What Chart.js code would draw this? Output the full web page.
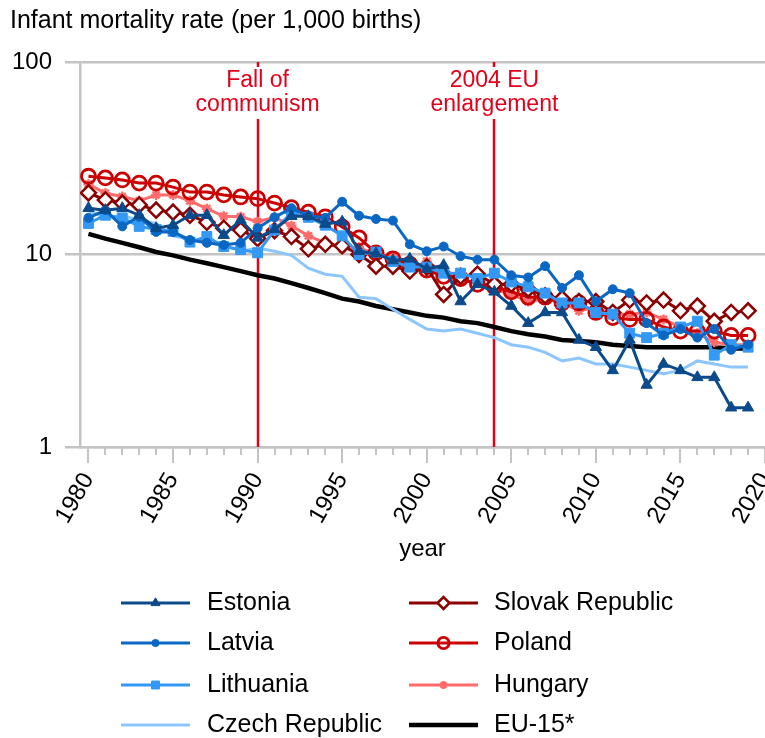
<!DOCTYPE html>
<html>
<head>
<meta charset="utf-8">
<script src="https://cdn.jsdelivr.net/npm/chart.js@4/dist/chart.umd.min.js"></script>
<style>
  html, body { margin: 0; padding: 0; background: #fff; }
</style>
</head>
<body>
<canvas id="myChart" width="765" height="738"></canvas>
<script>
const years = [1980, 1981, 1982, 1983, 1984, 1985, 1986, 1987, 1988, 1989,
  1990, 1991, 1992, 1993, 1994, 1995, 1996, 1997, 1998, 1999,
  2000, 2001, 2002, 2003, 2004, 2005, 2006, 2007, 2008, 2009,
  2010, 2011, 2012, 2013, 2014, 2015, 2016, 2017, 2018, 2019];

const estonia = [17.4, 17.0, 17.4, 16.0, 13.7, 14.2, 16.0, 16.0, 12.6, 15.1,
  12.2, 13.5, 15.8, 15.8, 14.4, 14.8, 10.4, 10.1, 9.3, 9.5,
  8.4, 8.8, 5.7, 7.0, 6.4, 5.4, 4.4, 5.0, 5.0, 3.6,
  3.3, 2.5, 3.6, 2.1, 2.7, 2.5, 2.3, 2.3, 1.6, 1.6];
const latvia = [15.5, 17.0, 14.0, 15.7, 13.1, 13.1, 11.9, 11.5, 11.2, 11.5,
  13.7, 15.6, 17.4, 15.9, 15.5, 18.8, 15.9, 15.3, 15.0, 11.3,
  10.4, 11.0, 9.8, 9.4, 9.4, 7.8, 7.6, 8.7, 6.7, 7.8,
  5.7, 6.6, 6.3, 4.4, 3.8, 4.1, 3.7, 4.1, 3.2, 3.4];
const lithuania = [14.5, 16.0, 15.5, 14.0, 13.5, 13.2, 11.6, 12.4, 11.0, 10.6,
  10.2, 13.4, 16.5, 15.6, 14.2, 12.5, 10.0, 10.3, 9.2, 8.6,
  8.6, 8.0, 8.0, 7.5, 8.0, 7.2, 6.8, 6.3, 5.6, 5.6,
  5.0, 4.9, 3.9, 3.7, 3.9, 4.2, 4.5, 3.0, 3.4, 3.3];
const czech = [16.9, 15.5, 16.0, 15.0, 14.5, 12.5, 12.0, 11.5, 11.2, 10.4,
  10.8, 10.4, 9.9, 8.5, 7.9, 7.7, 6.0, 5.9, 5.2, 4.6,
  4.1, 4.0, 4.1, 3.9, 3.7, 3.4, 3.3, 3.1, 2.8, 2.9,
  2.7, 2.7, 2.6, 2.5, 2.4, 2.5, 2.8, 2.7, 2.6, 2.6];
const slovak = [20.9, 19.2, 18.5, 18.1, 17.0, 16.6, 16.0, 14.7, 13.7, 13.4,
  12.1, 13.3, 12.4, 10.7, 11.3, 11.1, 10.0, 8.7, 8.7, 8.2,
  8.6, 6.2, 7.7, 7.9, 7.0, 7.0, 6.6, 6.1, 5.9, 5.7,
  5.7, 5.0, 5.8, 5.6, 5.8, 5.1, 5.4, 4.5, 5.0, 5.1];
const poland = [25.5, 25.0, 24.4, 23.5, 23.5, 22.4, 21.1, 21.1, 20.4, 19.9,
  19.5, 18.5, 17.5, 16.6, 15.7, 13.9, 12.2, 10.2, 9.5, 8.9,
  8.3, 7.7, 7.5, 7.0, 6.8, 6.4, 6.0, 6.0, 5.6, 5.6,
  5.0, 4.7, 4.6, 4.6, 4.2, 4.0, 4.0, 4.0, 3.8, 3.8];
const hungary = [23.2, 20.8, 20.0, 19.0, 20.4, 20.4, 19.0, 17.3, 15.8, 15.7,
  14.8, 15.6, 14.1, 12.5, 11.5, 10.7, 10.9, 9.9, 9.7, 8.4,
  9.2, 8.1, 7.2, 7.3, 6.6, 6.2, 5.7, 5.9, 5.6, 5.1,
  5.3, 4.9, 4.9, 5.0, 4.6, 4.2, 3.9, 3.5, 3.4, 3.4];
const eu15 = [12.8, 12.1, 11.5, 10.9, 10.3, 9.9, 9.4, 9.0, 8.6, 8.2,
  7.8, 7.5, 7.1, 6.7, 6.3, 5.9, 5.7, 5.4, 5.2, 5.0,
  4.8, 4.7, 4.5, 4.4, 4.2, 4.0, 3.85, 3.75, 3.6, 3.55,
  3.5, 3.4, 3.35, 3.3, 3.3, 3.3, 3.3, 3.3, 3.25, 3.25];

const xTickYears = [1980, 1985, 1990, 1995, 2000, 2005, 2010, 2015, 2020];
const yTickValues = [1, 10, 100];
const events = [
  { year: 1990, lines: ["Fall of", "communism"] },
  { year: 2004, lines: ["2004 EU", "enlargement"] }
];

const FONT = "'Liberation Sans', Arial, sans-serif";
const GRID = "#c4c4c4";
const RED = "#e2001a";

function pts(arr) {
  return years.map((yr, i) => ({ x: yr, y: arr[i] }));
}

// one entry per country, legend reads them too
const series = [
  { label: "Estonia", data: estonia, color: "#0b4a8b", style: "triangle", radius: 6.5, fill: "#0b4a8b", bw: 1 },
  { label: "Latvia", data: latvia, color: "#0a68c4", style: "circle", radius: 4.5, fill: "#0a68c4", bw: 1 },
  { label: "Lithuania", data: lithuania, color: "#3399f5", style: "rect", radius: 7, fill: "#3399f5", bw: 1 },
  { label: "Czech Republic", data: czech, color: "#8cc6ff", style: false, radius: 0, fill: "#8cc6ff", bw: 0 },
  { label: "Slovak Republic", data: slovak, color: "#8b0000", style: "rectRot", radius: 7.5, fill: "#ffffff", bw: 2.5 },
  { label: "Poland", data: poland, color: "#cc0000", style: "circle", radius: 7, fill: "rgba(0,0,0,0)", bw: 2.8 },
  { label: "Hungary", data: hungary, color: "#ff6b6b", style: "star", radius: 5, fill: "#ff6b6b", bw: 2.5 },
  { label: "EU-15*", data: eu15, color: "#000000", style: false, radius: 0, fill: "#000", bw: 0, width: 4.5 }
];

const datasets = series.map(s => ({
  label: s.label,
  data: pts(s.data),
  borderColor: s.color,
  backgroundColor: s.fill,
  borderWidth: s.width || 3,
  pointStyle: s.style,
  pointRadius: s.radius,
  pointBorderWidth: s.bw,
  pointBorderColor: s.color,
  pointBackgroundColor: s.fill,
  tension: 0,
  fill: false
}));

const decor = {
  id: "decor",
  beforeDatasetsDraw(chart) {
    const ctx = chart.ctx, x = chart.scales.x, a = chart.chartArea;
    ctx.save();
    // minor year ticks under the axis
    ctx.strokeStyle = GRID;
    ctx.lineWidth = 2;
    for (let yr = 1980; yr <= 2020; yr++) {
      if (yr % 5 === 0) continue;
      const px = Math.round(x.getPixelForValue(yr));
      ctx.beginPath();
      ctx.moveTo(px, a.bottom);
      ctx.lineTo(px, a.bottom + 8);
      ctx.stroke();
    }
    // event lines
    ctx.strokeStyle = RED;
    ctx.lineWidth = 2.5;
    events.forEach(e => {
      const px = Math.round(x.getPixelForValue(e.year));
      ctx.beginPath();
      ctx.moveTo(px, a.top);
      ctx.lineTo(px, a.bottom);
      ctx.stroke();
    });
    ctx.restore();
  },
  afterDraw(chart) {
    const ctx = chart.ctx, x = chart.scales.x;
    ctx.save();
    // event labels on white boxes
    ctx.font = "23px " + FONT;
    ctx.textAlign = "center";
    ctx.textBaseline = "middle";
    events.forEach(e => {
      const px = x.getPixelForValue(e.year);
      const w = Math.max(...e.lines.map(t => ctx.measureText(t).width)) + 6;
      ctx.fillStyle = "#fff";
      ctx.fillRect(px - w / 2, 67, w, 52);
      ctx.fillStyle = RED;
      ctx.fillText(e.lines[0], px, 81);
      ctx.fillText(e.lines[1], px, 105);
    });
    // title
    ctx.font = "25px " + FONT;
    ctx.textAlign = "left";
    ctx.fillStyle = "#000";
    ctx.fillText("Infant mortality rate (per 1,000 births)", 10, 21);
    // legend, two columns
    const colLine = [121, 409], colText = [207, 494], rows = [603, 643, 685, 725];
    series.forEach((s, i) => {
      const col = i < 4 ? 0 : 1, row = i % 4;
      const y = rows[row], x0 = colLine[col], x1 = x0 + 69;
      ctx.strokeStyle = s.color;
      ctx.lineWidth = s.width || 3;
      ctx.beginPath();
      ctx.moveTo(x0, y);
      ctx.lineTo(x1, y);
      ctx.stroke();
      if (s.style && Chart.helpers && Chart.helpers.drawPoint) {
        ctx.fillStyle = s.fill;
        ctx.lineWidth = s.bw;
        Chart.helpers.drawPoint(ctx, { pointStyle: s.style, radius: s.radius * 0.8, rotation: 0, borderWidth: s.bw }, (x0 + x1) / 2, y);
      }
      ctx.fillStyle = "#000";
      ctx.textBaseline = "middle";
      ctx.fillText(s.label, colText[col], y);
    });
    ctx.restore();
  }
};

new Chart(document.getElementById("myChart"), {
  type: "line",
  data: { datasets: datasets },
  options: {
    responsive: false,
    animation: false,
    layout: { autoPadding: false, padding: { top: 62, left: 0, right: 0, bottom: 172 } },
    plugins: { legend: { display: false }, tooltip: { enabled: false } },
    scales: {
      x: {
        type: "linear",
        min: 1979.5,
        max: 2020,
        afterBuildTicks: s => { s.ticks = xTickYears.map(v => ({ value: v })); },
        afterFit: s => { s.height = 119; s.paddingLeft = 0; s.paddingRight = 0; },
        grid: { drawOnChartArea: false, drawTicks: true, tickLength: 16, color: GRID, lineWidth: 2 },
        border: { color: GRID, width: 2.5 },
        ticks: { autoSkip: false, minRotation: 60, maxRotation: 60, padding: 5, color: "#000", font: { size: 24, family: FONT }, callback: v => String(v) },
        title: { display: true, text: "year", color: "#000", font: { size: 24, family: FONT }, padding: { top: 0, bottom: 2 } }
      },
      y: {
        type: "logarithmic",
        min: 1,
        max: 100,
        afterBuildTicks: s => { s.ticks = yTickValues.map(v => ({ value: v })); },
        afterFit: s => { s.width = 80; },
        grid: { color: GRID, lineWidth: 2.5, tickLength: 15 },
        border: { color: GRID, width: 2.5 },
        ticks: { padding: 13, color: "#000", font: { size: 24, family: FONT }, callback: v => String(v) }
      }
    }
  },
  plugins: [decor]
});
</script>
</body>
</html>
